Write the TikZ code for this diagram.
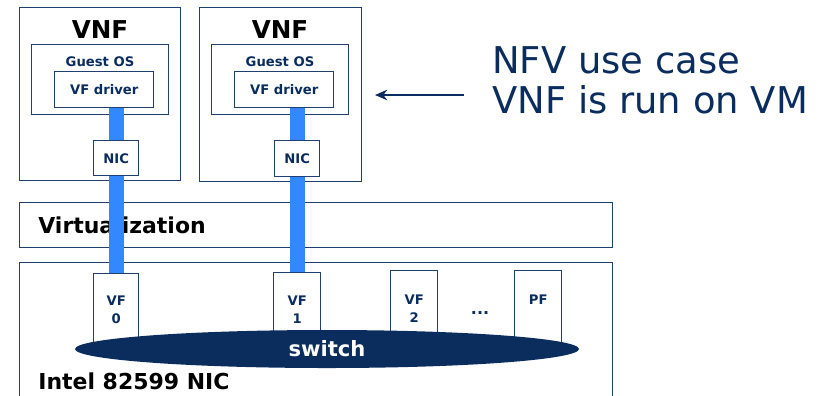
\documentclass[tikz,border=0pt]{standalone}
\usepackage{fontspec}
\setmainfont{DejaVu Sans}
\usetikzlibrary{arrows.meta, positioning, shapes.geometric}
\definecolor{NavyDark}{HTML}{0B2D5E}
\definecolor{BoxLine}{HTML}{1E3F70}
\definecolor{LinkBlue}{HTML}{3388FF}

\begin{document}
\begin{tikzpicture}[
    box/.style={draw=BoxLine, line width=0.8pt, fill=white, inner sep=0pt, anchor=north west},
    small/.style={font=\fontsize{7.5}{10}\selectfont\bfseries, text=NavyDark},
    big/.style={font=\fontsize{12.5}{14}\selectfont\bfseries, text=black, inner sep=0pt},
    link/.style={LinkBlue, line width=0.3cm},
    pointer/.style={-{Stealth[length=7pt, width=6pt]}, NavyDark, line width=1pt}
]
\useasboundingbox (0,0) rectangle (16.52,-7.9);

% VNF machines
\node[box, minimum width=3.22cm, minimum height=3.46cm] (vnf1) at (0.38,-0.14) {};
\node[box, minimum width=3.24cm, minimum height=3.48cm] (vnf2) at (3.98,-0.14) {};
\node[big, font=\fontsize{14}{16}\selectfont\bfseries] (vnf1lbl) at (2.0,-0.6) {VNF};
\node[big, font=\fontsize{14}{16}\selectfont\bfseries] (vnf2lbl) at (5.6,-0.6) {VNF};

% Guest OS and drivers
\node[box, minimum width=2.74cm, minimum height=1.40cm] (os1) at (0.62,-0.88) {};
\node[box, minimum width=2.74cm, minimum height=1.40cm] (os2) at (4.22,-0.88) {};
\node[small] (os1lbl) at (2.0,-1.24) {Guest OS};
\node[small] (os2lbl) at (5.6,-1.24) {Guest OS};
\node[box, small, minimum width=1.98cm, minimum height=0.72cm] (drv1) at (1.08,-1.42) {VF driver};
\node[box, small, minimum width=1.98cm, minimum height=0.72cm] (drv2) at (4.68,-1.42) {VF driver};

% Virtualization layer
\node[box, minimum width=11.86cm, minimum height=0.90cm] (virt) at (0.38,-4.04) {};
\node[big, anchor=west] (virtlbl) at (0.76,-4.5) {Virtualization};

% NIC board
\node[box, minimum width=11.86cm, minimum height=3.0cm] (board) at (0.38,-5.24) {};
\node[box, small, align=center, minimum width=0.90cm, minimum height=1.44cm] (vf0) at (1.86,-5.46) {VF\\0};
\node[box, small, align=center, minimum width=0.94cm, minimum height=1.48cm] (vf1) at (5.46,-5.44) {VF\\1};
\node[box, small, align=center, minimum width=0.94cm, minimum height=1.52cm] (vf2) at (7.80,-5.40) {VF\\2};
\node[box, small, align=center, minimum width=0.94cm, minimum height=1.52cm] (pf) at (10.28,-5.40) {PF\\\mbox{}};
\node[small, font=\fontsize{9}{10}\selectfont\bfseries] (dots) at (9.6,-6.26) {...};
\node[ellipse, fill=NavyDark, minimum width=10.08cm, minimum height=0.76cm, inner sep=0pt,
      font=\fontsize{12}{14}\selectfont\bfseries, text=white] (switch) at (6.54,-6.98) {switch};
\node[big, anchor=west] (boardlbl) at (0.76,-7.62) {Intel 82599 NIC};

% VF links
\draw[link] (vf0.north |- drv1.south) -- (vf0.north);
\draw[link] (vf1.north |- drv2.south) -- (vf1.north);

% guest NICs
\node[box, small, minimum width=0.90cm, minimum height=0.70cm] (nic1) at (1.86,-2.80) {NIC};
\node[box, small, minimum width=0.90cm, minimum height=0.72cm] (nic2) at (5.48,-2.80) {NIC};

% use case note
\node[anchor=west, align=left, inner sep=0pt, text=NavyDark,
      font=\fontsize{21}{22.8}\selectfont] (note) at (9.84,-1.6) {NFV use case\\VNF is run on VM};
\coordinate (arrtip) at (7.5,-1.9);
\draw[pointer] (note.west |- arrtip) ++(-0.56,0) -- (arrtip);
\end{tikzpicture}
\end{document}
